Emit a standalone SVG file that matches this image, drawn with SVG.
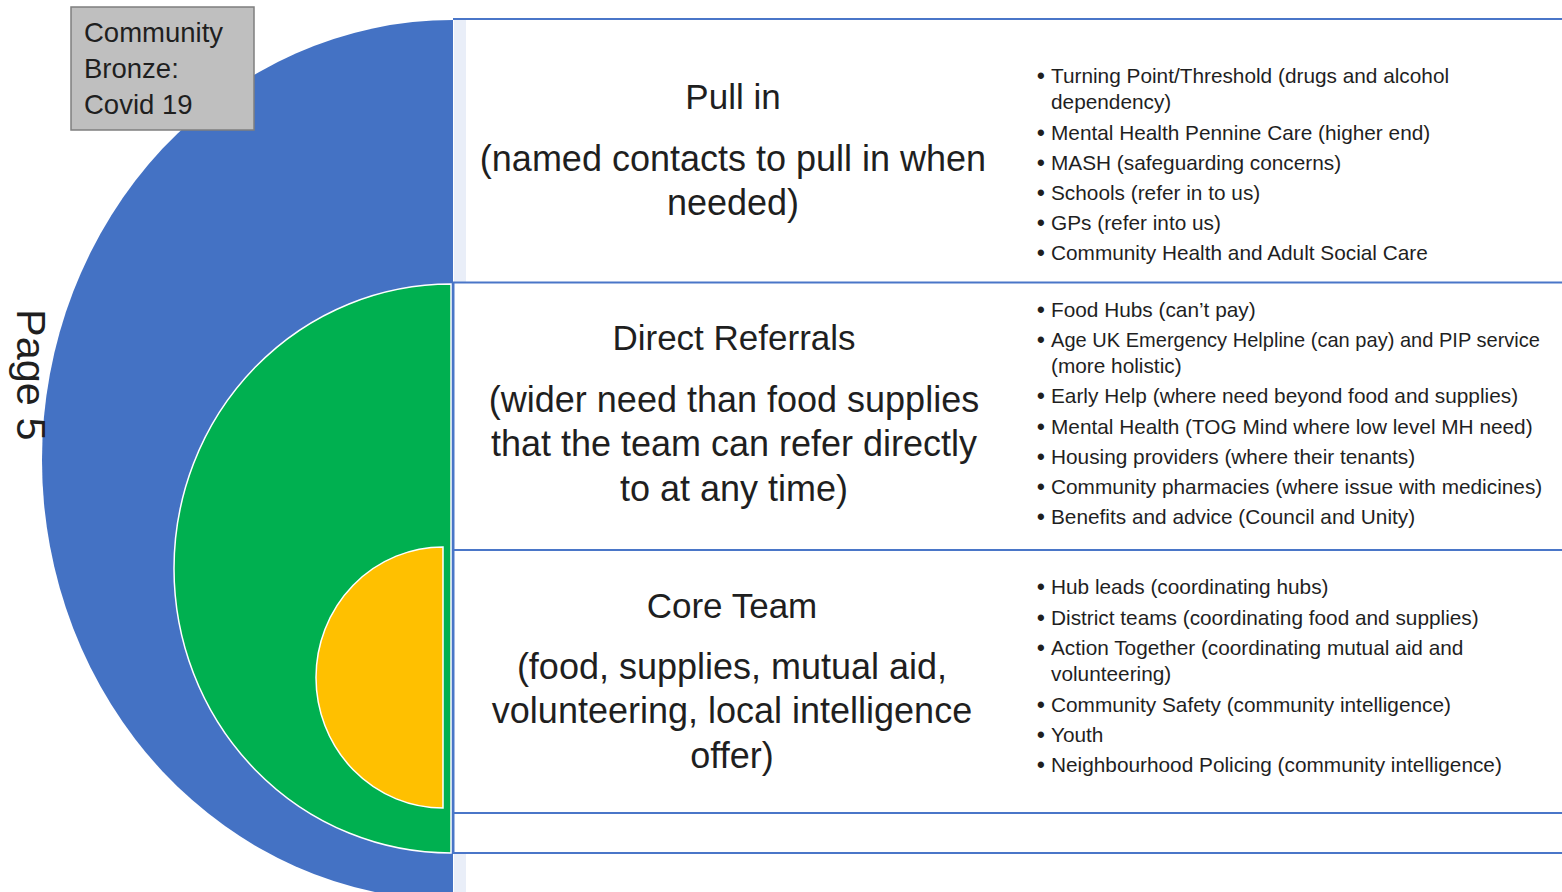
<svg xmlns="http://www.w3.org/2000/svg" width="1562" height="892" viewBox="0 0 1562 892">
<style>
  .t { font-family: "Liberation Sans", Arial, sans-serif; fill: #1f1f1f; }
  .title { font-size: 35px; text-anchor: middle; }
  .body { font-size: 36px; text-anchor: middle; }
  .item { font-size: 20.8px; }
  .dot { font-size: 22px; font-weight: bold; }
  .box { font-size: 27.5px; }
  .rule { stroke: #4a76c8; stroke-width: 2; fill: none; }
  .strip { fill: #e9eef8; }
</style>
<rect width="1562" height="892" fill="#ffffff"/>

<g id="outer-ring">
  <path d="M453,20 A411,440 0 0 0 453,900 Z" fill="#4472c4"/>
</g>
<g id="middle-ring">
  <path d="M451,284 A277,284.5 0 0 0 451,853 Z" fill="#00b050" stroke="#ffffff" stroke-width="1.5"/>
</g>
<g id="core">
  <path d="M443,547 A127,130.5 0 0 0 443,808 Z" fill="#ffc000" stroke="#ffffff" stroke-width="1.5"/>
</g>

<g id="page-label">
  <text class="t" font-size="41.5" fill="#000" transform="translate(17,309) rotate(90)">Page 5</text>
</g>

<g id="label-box">
  <rect x="71" y="7" width="183" height="123" fill="#bfbfbf" stroke="#7f7f7f" stroke-width="1.5"/>
  <text class="t box" x="84" y="42">Community</text>
  <text class="t box" x="84" y="78">Bronze:</text>
  <text class="t box" x="84" y="114">Covid 19</text>
</g>

<g id="connectors">
  <rect class="strip" x="454" y="20" width="12" height="262"/>
  <rect class="strip" x="454" y="854" width="12" height="38"/>
  <line class="rule" x1="453" y1="19" x2="1562" y2="19"/>
  <line class="rule" x1="453" y1="282.5" x2="1562" y2="282.5"/>
  <line class="rule" x1="453" y1="550" x2="1562" y2="550"/>
  <line class="rule" x1="453" y1="813" x2="1562" y2="813"/>
  <line class="rule" x1="453" y1="853" x2="1562" y2="853"/>
  <line class="rule" x1="453.5" y1="282.5" x2="453.5" y2="853"/>
</g>

<g id="panel-pull-in">
  <text class="t title" x="733" y="109">Pull in</text>
  <text class="t body" x="733" y="171">(named contacts to pull in when</text>
  <text class="t body" x="733" y="215">needed)</text>
  <g class="t item">
    <text class="dot" x="1037" y="83">•</text><text x="1051" y="83">Turning Point/Threshold (drugs and alcohol</text>
    <text x="1051" y="109">dependency)</text>
    <text class="dot" x="1037" y="140">•</text><text x="1051" y="140">Mental Health Pennine Care (higher end)</text>
    <text class="dot" x="1037" y="170">•</text><text x="1051" y="170">MASH (safeguarding concerns)</text>
    <text class="dot" x="1037" y="200">•</text><text x="1051" y="200">Schools (refer in to us)</text>
    <text class="dot" x="1037" y="230">•</text><text x="1051" y="230">GPs (refer into us)</text>
    <text class="dot" x="1037" y="260">•</text><text x="1051" y="260">Community Health and Adult Social Care</text>
  </g>
</g>

<g id="panel-direct-referrals">
  <text class="t title" x="734" y="350">Direct Referrals</text>
  <text class="t body" x="734" y="412">(wider need than food supplies</text>
  <text class="t body" x="734" y="456">that the team can refer directly</text>
  <text class="t body" x="734" y="501">to at any time)</text>
  <g class="t item">
    <text class="dot" x="1037" y="317">•</text><text x="1051" y="317">Food Hubs (can’t pay)</text>
    <text class="dot" x="1037" y="347">•</text><text x="1051" y="347" textLength="489" lengthAdjust="spacingAndGlyphs">Age UK Emergency Helpline (can pay) and PIP service</text>
    <text x="1051" y="373">(more holistic)</text>
    <text class="dot" x="1037" y="403">•</text><text x="1051" y="403">Early Help (where need beyond food and supplies)</text>
    <text class="dot" x="1037" y="434">•</text><text x="1051" y="434">Mental Health (TOG Mind where low level MH need)</text>
    <text class="dot" x="1037" y="464">•</text><text x="1051" y="464">Housing providers (where their tenants)</text>
    <text class="dot" x="1037" y="494">•</text><text x="1051" y="494">Community pharmacies (where issue with medicines)</text>
    <text class="dot" x="1037" y="524">•</text><text x="1051" y="524">Benefits and advice (Council and Unity)</text>
  </g>
</g>

<g id="panel-core-team">
  <text class="t title" x="732" y="618">Core Team</text>
  <text class="t body" x="732" y="679">(food, supplies, mutual aid,</text>
  <text class="t body" x="732" y="723">volunteering, local intelligence</text>
  <text class="t body" x="732" y="768">offer)</text>
  <g class="t item">
    <text class="dot" x="1037" y="594">•</text><text x="1051" y="594">Hub leads (coordinating hubs)</text>
    <text class="dot" x="1037" y="625">•</text><text x="1051" y="625">District teams (coordinating food and supplies)</text>
    <text class="dot" x="1037" y="655">•</text><text x="1051" y="655">Action Together (coordinating mutual aid and</text>
    <text x="1051" y="681">volunteering)</text>
    <text class="dot" x="1037" y="712">•</text><text x="1051" y="712">Community Safety (community intelligence)</text>
    <text class="dot" x="1037" y="742">•</text><text x="1051" y="742">Youth</text>
    <text class="dot" x="1037" y="772">•</text><text x="1051" y="772">Neighbourhood Policing (community intelligence)</text>
  </g>
</g>
</svg>
